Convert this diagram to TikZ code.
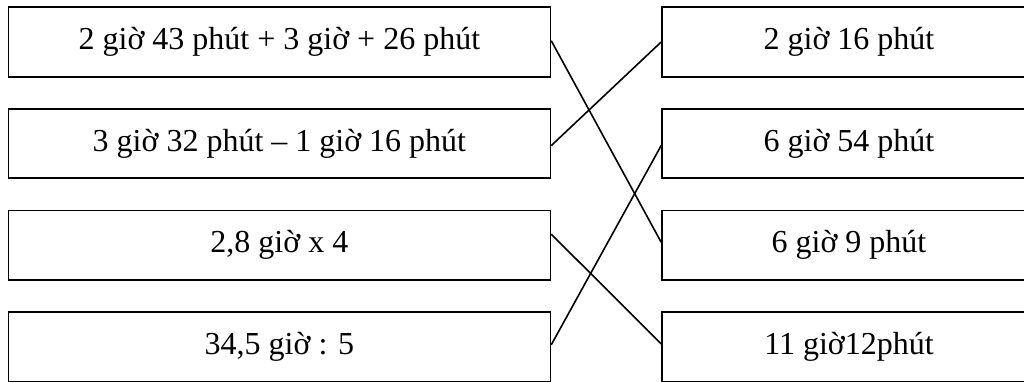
\documentclass[tikz,border=0pt]{standalone}
\usepackage{fontspec}
\setmainfont{Liberation Serif}
\begin{document}
\begin{tikzpicture}[x=1pt,y=-1pt,
  box/.style={draw=black,line width=1.7pt,inner sep=0pt,font=\fontsize{32}{38}\selectfont},
  lbox/.style={box,minimum width=542pt,minimum height=69.4pt},
  rbox/.style={box,minimum width=374pt,minimum height=69.4pt},
  link/.style={draw=black,line width=1.6pt}]
\useasboundingbox (0,0) rectangle (1024,381);
\clip (0,0) rectangle (1024,381);
\node[lbox] (L1) at (279.4,42) {2 giờ 43 phút + 3 giờ + 26 phút};
\node[lbox] (L2) at (279.4,143.6) {3 giờ 32 phút – 1 giờ 16 phút};
\node[lbox] (L3) at (279.4,245.2) {2,8 giờ x 4};
\node[lbox] (L4) at (279.4,346.8) {34,5 giờ : 5};
\node[rbox] (R1) at (849,42) {2 giờ 16 phút};
\node[rbox] (R2) at (849,143.6) {6 giờ 54 phút};
\node[rbox] (R3) at (849,245.2) {6 giờ 9 phút};
\node[rbox] (R4) at (849,346.8) {11 giờ12phút};
\draw[link] ([yshift=1.3pt]L1.east) -- ([yshift=3pt]R3.west);
\draw[link] ([yshift=-2pt]L2.east) -- (R1.west);
\draw[link] ([yshift=11pt]L3.east) -- ([yshift=3pt]R4.west);
\draw[link] ([yshift=2pt]L4.east) -- ([yshift=-2pt]R2.west);
\end{tikzpicture}
\end{document}
